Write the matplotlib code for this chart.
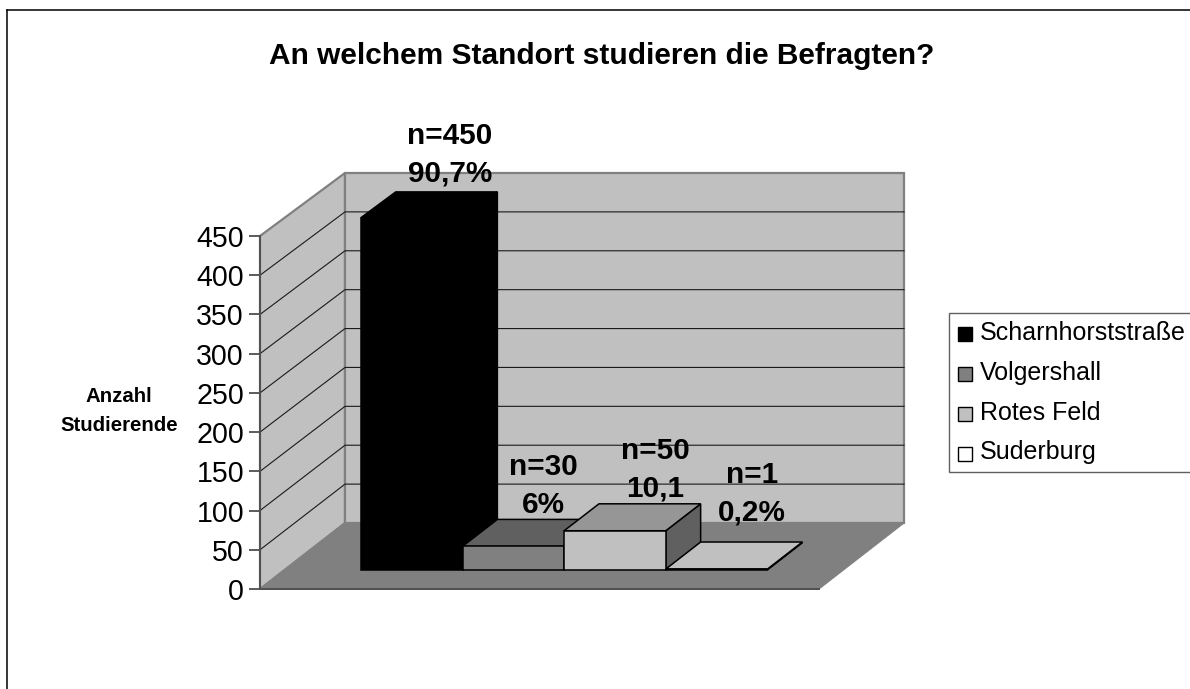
import matplotlib
matplotlib.use("Agg")
import matplotlib.pyplot as plt
from matplotlib.patches import Polygon, Rectangle
from matplotlib.lines import Line2D
from matplotlib.transforms import Affine2D

plt.rcParams['font.family'] = ['Liberation Sans', 'DejaVu Sans']

title = "An welchem Standort studieren die Befragten?"
ylabel = "Anzahl\nStudierende"
categories = ["Scharnhorststraße", "Volgershall", "Rotes Feld", "Suderburg"]
values = [450, 30, 50, 1]
bar_labels = ["n=450\n90,7%", "n=30\n6%", "n=50\n10,1", "n=1\n0,2%"]
yticks = [0, 50, 100, 150, 200, 250, 300, 350, 400, 450]
front_colors = ["#000000", "#808080", "#c0c0c0", "#ffffff"]
top_colors = ["#000000", "#606060", "#969696", "#c0c0c0"]
side_colors = ["#000000", "#404040", "#606060", "#808080"]

W, H = 1190, 689
fig = plt.figure(figsize=(W / 100, H / 100), dpi=100, facecolor="white")
px = Affine2D().scale(1, -1).translate(0, H)  # layout transform: reference pixels

AX_L, AX_B, AX_W, AX_H = 260, 589, 559, 353
ax = fig.add_axes([AX_L / W, (H - AX_B) / H, AX_W / W, AX_H / H])
ax.set_xlim(0, 1)
ax.set_ylim(0, 450)
ax.patch.set_visible(False)

DX = 85 / AX_W
PX_PER_UNIT = AX_H / 450


def proj(x, v, d):
    """Oblique projection: category fraction, value, depth fraction -> data coords."""
    return (x + d * DX, v + d * (66 - 3 * v / 450) / PX_PER_UNIT)


def face(pts, **kw):
    kw.setdefault("clip_on", False)
    ax.add_patch(Polygon([proj(*p) for p in pts], closed=True, **kw))


top = yticks[-1]
# walls and floor
face([(0, 0, 0), (0, 0, 1), (0, top, 1), (0, top, 0)], facecolor="#c0c0c0", edgecolor="#808080", lw=1.6, zorder=1)
face([(0, 0, 1), (1, 0, 1), (1, top, 1), (0, top, 1)], facecolor="#c0c0c0", edgecolor="#808080", lw=1.6, zorder=1)
face([(0, 0, 0), (1, 0, 0), (1, 0, 1), (0, 0, 1)], facecolor="#808080", edgecolor="#808080", lw=0.8, zorder=2)

# gridlines
for t in yticks[1:-1]:
    xs, ys = zip(proj(0, t, 0), proj(0, t, 1), proj(1, t, 1))
    ax.plot(xs, ys, color="#1a1a1a", lw=0.8, clip_on=False, zorder=3)

# bars
n = len(values)
gap = 1.5
w = 1 / (n + gap)
d0, d1 = 0.29, 0.70
for i, (v, fc, tc, sc) in enumerate(zip(values, front_colors, top_colors, side_colors)):
    x0 = (gap / 2 + i) * w
    x1 = x0 + w
    z = 5 + i
    kw = dict(edgecolor="black", lw=1.1, joinstyle="miter", zorder=z)
    face([(x1, 0, d0), (x1, 0, d1), (x1, v, d1), (x1, v, d0)], facecolor=sc, **kw)
    face([(x0, v, d0), (x1, v, d0), (x1, v, d1), (x0, v, d1)], facecolor=tc, **kw)
    face([(x0, 0, d0), (x1, 0, d0), (x1, v, d0), (x0, v, d0)], facecolor=fc, **kw)

# axes
ax.set_xticks([])
ax.set_yticks(yticks)
ax.tick_params(axis="y", length=8, width=1.2, color="#404040", labelsize=20.6, pad=3.5)
for s in ("top", "right"):
    ax.spines[s].set_visible(False)
for s in ("left", "bottom"):
    ax.spines[s].set_color("#505050")
    ax.spines[s].set_linewidth(1.4)
    ax.spines[s].set_zorder(4)

# titles
fig.text(602, 56.5, title, transform=px, ha="center", va="center", fontsize=21.5, fontweight="bold")
fig.text(119, 411, ylabel, transform=px, ha="center", va="center", fontsize=14.7,
         fontweight="bold", linespacing=1.72)

# data labels (layout in reference pixels)
label_pos = [(450, 155), (543, 486), (655, 469.5), (752, 494)]
for (lx, ly), s in zip(label_pos, bar_labels):
    fig.text(lx, ly, s, transform=px, ha="center", va="center", fontsize=21.4,
             fontweight="bold", linespacing=1.42, zorder=20)

# chart frame
for xs, ys in (([7, 7], [H + 2, 10]), ([7, W + 2], [10, 10])):
    fig.add_artist(Line2D(xs, ys, transform=px, color="black", lw=1.1))

# legend
fig.add_artist(Rectangle((949, 313), W + 5 - 949, 159, transform=px, facecolor="white",
                         edgecolor="#606060", lw=1.0))
swatch_tops = [327, 367, 407, 447]
baselines = [340, 380, 419.5, 459]
for name, fc, st, bl in zip(categories, front_colors, swatch_tops, baselines):
    fig.add_artist(Rectangle((958, st), 14, 14, transform=px, facecolor=fc, edgecolor="black", lw=1.0))
    fig.text(980, bl, name, transform=px, ha="left", va="baseline", fontsize=18)

fig.savefig("out.png", dpi=100)
